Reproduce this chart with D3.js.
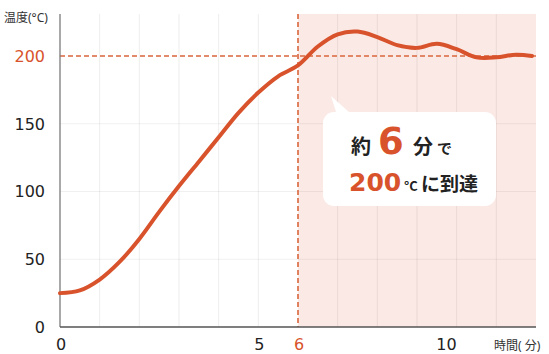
<!DOCTYPE html>
<html>
<head>
<meta charset="utf-8">
<script src="https://cdn.jsdelivr.net/npm/d3@7"></script>
<style>
  html, body { margin: 0; padding: 0; background: #fff; }
  svg { display: block; font-family: "Noto Sans", "Noto Sans CJK JP", sans-serif; }
</style>
</head>
<body>
<svg id="chart" width="549" height="354"></svg>
<script>
// Heating curve: oven temperature (°C) against time (minutes)
const timeMin = [0, 0.5, 1, 1.5, 2, 2.5, 3, 3.5, 4, 4.5, 5, 5.5, 6, 6.5, 7, 7.5, 8, 8.5, 9, 9.5, 10, 10.5, 11, 11.5, 11.9];
const tempC   = [25, 27, 35, 48, 65, 85, 104, 122, 140, 158, 173, 185, 193, 207, 216, 218, 214, 208, 206, 209, 205, 199, 199, 201, 200];

const xTickValues = [0, 5, 6, 10];
const xTickLabels = ["0", "5", "6", "10"];
const yTickValues = [0, 50, 100, 150, 200];
const yTickLabels = ["0", "50", "100", "150", "200"];
const gridTimes = [1, 2, 3, 4, 5, 7, 8, 9, 10, 11];
const gridTemps = [50, 100, 150];

const targetTemp = 200;
const reachTime = 6;
const endTime = 12;

const ORANGE = "#d8532c";
const NUM_FONT = "'DejaVu Sans', sans-serif";
const svg = d3.select("#chart");

const x = d3.scaleLinear().domain([0, 12]).range([60, 536]);
const y = d3.scaleLinear().domain([0, 231]).range([327, 14]);

// shaded zone after the target is reached
svg.append("rect")
  .attr("x", x(reachTime)).attr("y", y(231))
  .attr("width", x(endTime) - x(reachTime)).attr("height", y(0) - y(231))
  .attr("fill", "#fbe9e5");

// gridlines
svg.append("g").selectAll("line").data(gridTimes).join("line")
  .attr("x1", d => x(d)).attr("x2", d => x(d))
  .attr("y1", y(231)).attr("y2", y(0))
  .attr("stroke", "rgba(0,0,0,0.07)").attr("stroke-width", 1);
svg.append("g").selectAll("line").data(gridTemps).join("line")
  .attr("x1", x(0)).attr("x2", x(endTime))
  .attr("y1", d => y(d)).attr("y2", d => y(d))
  .attr("stroke", "rgba(0,0,0,0.06)").attr("stroke-width", 1);

// reference lines at 200°C and 6 minutes
svg.append("line")
  .attr("x1", x(0)).attr("x2", x(endTime))
  .attr("y1", y(targetTemp)).attr("y2", y(targetTemp))
  .attr("stroke", "#d9653c").attr("stroke-width", 1.6).attr("stroke-dasharray", "5,3");
svg.append("line")
  .attr("x1", x(reachTime)).attr("x2", x(reachTime))
  .attr("y1", y(231)).attr("y2", y(0))
  .attr("stroke", "#d9653c").attr("stroke-width", 1.6).attr("stroke-dasharray", "5,3");

// axes
svg.append("line")
  .attr("x1", x(0)).attr("x2", x(0)).attr("y1", y(231)).attr("y2", y(0))
  .attr("stroke", "#7a7a7a").attr("stroke-width", 1.3);
svg.append("line")
  .attr("x1", x(0)).attr("x2", x(endTime)).attr("y1", y(0)).attr("y2", y(0))
  .attr("stroke", "#555").attr("stroke-width", 1.3);

// temperature curve
const line = d3.line()
  .x((d, i) => x(timeMin[i]))
  .y(d => y(d))
  .curve(d3.curveCatmullRom.alpha(0.5));
svg.append("path")
  .attr("d", line(tempC))
  .attr("fill", "none")
  .attr("stroke", ORANGE)
  .attr("stroke-width", 4)
  .attr("stroke-linecap", "round")
  .attr("stroke-linejoin", "round");

// y tick labels
svg.append("g").selectAll("text").data(yTickValues).join("text")
  .attr("x", 45).attr("y", d => y(d))
  .attr("dy", "0.36em")
  .attr("text-anchor", "end")
  .attr("font-family", NUM_FONT)
  .attr("font-size", 16)
  .attr("fill", d => d === targetTemp ? ORANGE : "#222")
  .text((d, i) => yTickLabels[i]);

// x tick labels
svg.append("g").selectAll("text").data(xTickValues).join("text")
  .attr("x", d => d === 10 ? x(d) : x(d) + 1)
  .attr("y", 350)
  .attr("text-anchor", d => d === 10 ? "end" : "middle")
  .attr("font-family", NUM_FONT)
  .attr("font-size", 16)
  .attr("fill", d => d === reachTime ? ORANGE : "#222")
  .text((d, i) => xTickLabels[i]);

// axis titles
svg.append("text")
  .attr("x", 4).attr("y", 22)
  .attr("font-size", 12).attr("fill", "#333")
  .text("温度(°C)");
svg.append("text")
  .attr("x", 494).attr("y", 350)
  .attr("font-size", 12).attr("fill", "#333")
  .text("時間( 分)");

// speech bubble callout
const bx0 = 323, by0 = 112, bx1 = 496, by1 = 206, r = 11;
const bubble = d3.path();
bubble.moveTo(bx0 + r, by0);
bubble.lineTo(336, by0);
bubble.lineTo(331, 96);
bubble.lineTo(349, by0);
bubble.lineTo(bx1 - r, by0);
bubble.arcTo(bx1, by0, bx1, by0 + r, r);
bubble.lineTo(bx1, by1 - r);
bubble.arcTo(bx1, by1, bx1 - r, by1, r);
bubble.lineTo(bx0 + r, by1);
bubble.arcTo(bx0, by1, bx0, by1 - r, r);
bubble.lineTo(bx0, by0 + r);
bubble.arcTo(bx0, by0, bx0 + r, by0, r);
bubble.closePath();
svg.append("path").attr("d", bubble.toString()).attr("fill", "#fff");

const cjk = "'Noto Sans CJK JP', sans-serif";
const l1 = svg.append("text").attr("y", 154).attr("font-family", cjk).attr("font-weight", 700);
l1.append("tspan").attr("x", 351).attr("font-size", 20).attr("fill", "#222").text("約");
l1.append("tspan").attr("x", 378).attr("font-size", 37).attr("fill", ORANGE)
  .attr("font-family", NUM_FONT).attr("font-weight", 700).text("6");
l1.append("tspan").attr("x", 413).attr("font-size", 20).attr("fill", "#222").text("分");
l1.append("tspan").attr("x", 437).attr("font-size", 15).attr("fill", "#222").text("で");

const l2 = svg.append("text").attr("y", 191).attr("font-family", cjk).attr("font-weight", 700);
l2.append("tspan").attr("x", 349).attr("font-size", 25).attr("fill", ORANGE)
  .attr("font-family", NUM_FONT).attr("font-weight", 700).text("200");
l2.append("tspan").attr("x", 404).attr("font-size", 13).attr("fill", "#222").text("°C");
l2.append("tspan").attr("x", 421).attr("font-size", 19).attr("fill", "#222").text("に到達");
</script>
</body>
</html>
